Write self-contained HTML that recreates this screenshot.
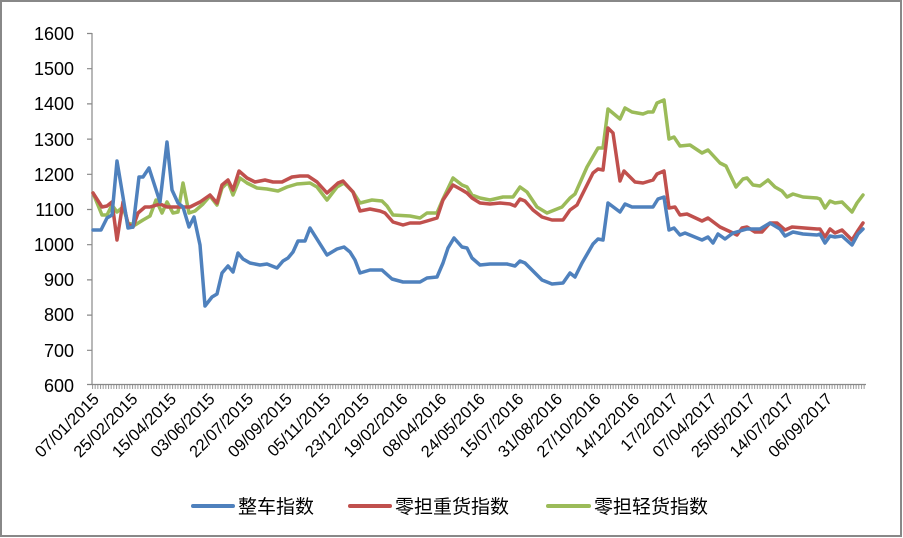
<!DOCTYPE html>
<html><head><meta charset="utf-8"><style>
html,body{margin:0;padding:0;background:#fff;}
svg{display:block;font-family:"Liberation Sans","Noto Sans CJK SC",sans-serif;}
</style></head><body>
<svg width="903" height="538" viewBox="0 0 903 538" xmlns="http://www.w3.org/2000/svg">
<defs>
<pattern id="tk" x="92" y="385" width="2.67" height="5" patternUnits="userSpaceOnUse">
<rect x="0" y="0" width="1" height="5" fill="#999"/>
</pattern>
</defs>
<rect x="1" y="1" width="900" height="535" fill="#fff" stroke="#888" stroke-width="2"/>
<rect x="92" y="385" width="774" height="4" fill="url(#tk)"/>
<g stroke="#888" stroke-width="1.2" fill="none">
<line x1="92" y1="33" x2="92" y2="385"/>
<line x1="87" y1="384.5" x2="866" y2="384.5"/>
<path d="M87 33.5h5M87 68.7h5M87 103.9h5M87 139.1h5M87 174.3h5M87 209.5h5M87 244.7h5M87 279.9h5M87 315.1h5M87 350.3h5"/>
</g>
<g font-size="18" fill="#000" text-anchor="end">
<text x="74" y="40">1600</text><text x="74" y="75">1500</text><text x="74" y="110">1400</text><text x="74" y="146">1300</text><text x="74" y="181">1200</text><text x="74" y="216">1100</text><text x="74" y="251">1000</text><text x="74" y="286">900</text><text x="74" y="321">800</text><text x="74" y="357">700</text><text x="74" y="392">600</text>
</g>
<g font-size="16.5" fill="#000" text-anchor="end">
<text transform="translate(100,400) rotate(-45)">07/01/2015</text>
<text transform="translate(138.6,400) rotate(-45)">25/02/2015</text>
<text transform="translate(177.2,400) rotate(-45)">15/04/2015</text>
<text transform="translate(215.8,400) rotate(-45)">03/06/2015</text>
<text transform="translate(254.4,400) rotate(-45)">22/07/2015</text>
<text transform="translate(293,400) rotate(-45)">09/09/2015</text>
<text transform="translate(331.6,400) rotate(-45)">05/11/2015</text>
<text transform="translate(370.2,400) rotate(-45)">23/12/2015</text>
<text transform="translate(408.8,400) rotate(-45)">19/02/2016</text>
<text transform="translate(447.4,400) rotate(-45)">08/04/2016</text>
<text transform="translate(486,400) rotate(-45)">24/05/2016</text>
<text transform="translate(524.6,400) rotate(-45)">15/07/2016</text>
<text transform="translate(563.2,400) rotate(-45)">31/08/2016</text>
<text transform="translate(601.8,400) rotate(-45)">27/10/2016</text>
<text transform="translate(640.4,400) rotate(-45)">14/12/2016</text>
<text transform="translate(679,400) rotate(-45)">17/2/2017</text>
<text transform="translate(717.6,400) rotate(-45)">07/04/2017</text>
<text transform="translate(756.2,400) rotate(-45)">25/05/2017</text>
<text transform="translate(794.8,400) rotate(-45)">14/07/2017</text>
<text transform="translate(833.4,400) rotate(-45)">06/09/2017</text>
</g>
<g fill="none" stroke-width="3.5" stroke-linejoin="round" stroke-linecap="round">
<polyline stroke="#9BBB59" points="93,193 102,215 107,215 112,205 117,212 123,207 128,223 135,225 143,220 150,216 156,200 162,213 167,202 173,213 178,212 183,183 189,213 195,211 203,204 210,196 217,205 222,188 228,182 233,195 240,178 247,183 257,188 267,189 278,191 287,187 297,184 310,183 317,187 327,200 337,187 344,183 353,192 360,203 372,200 382,201 387,206 393,215 410,216 420,218 427,213 437,213 443,199 453,178 462,185 467,187 472,195 480,198 490,200 503,197 513,197 520,187 527,192 537,207 547,213 562,207 570,198 575,194 587,167 598,148 603,148 608,109 620,119 625,108 632,112 643,114 648,112 653,112 657,103 664,100 669,139 674,137 680,146 690,145 702,153 708,150 720,163 726,166 736,187 743,179 747,178 753,185 760,186 768,180 775,187 782,191 787,197 793,194 803,197 817,198 820,199 825,208 830,201 835,203 842,202 852,212 857,203 863,195"/>
<polyline stroke="#C0504D" points="93,193 102,207 107,206 112,202 117,240 123,202 128,224 133,227 138,213 145,207 150,207 160,204 167,207 177,207 190,207 200,202 210,195 217,203 222,185 228,180 233,190 239,171 247,178 255,182 265,180 273,182 282,182 292,177 300,176 308,176 317,182 327,193 338,183 343,181 353,192 360,211 370,209 380,211 385,213 393,222 403,225 410,223 420,223 427,221 437,218 443,200 453,185 462,190 467,193 472,198 480,203 490,204 500,203 510,204 515,206 520,199 525,201 533,210 542,217 552,220 563,220 570,210 577,205 593,173 598,169 603,170 608,128 613,133 620,181 624,171 635,182 643,183 653,180 657,174 664,171 669,208 675,207 680,215 687,214 702,221 708,218 720,227 733,233 737,235 742,228 747,227 755,232 762,232 770,223 777,223 785,230 792,227 817,229 820,229 825,237 830,229 835,233 842,230 852,240 857,232 863,223"/>
<polyline stroke="#4F81BD" points="93,230 101,230 107,218 112,215 117,161 123,197 128,228 133,227 139,177 143,177 149,168 160,202 167,142 172,190 178,203 183,207 189,227 194,217 200,245 205,306 212,297 217,294 222,273 228,266 233,272 238,253 243,259 250,263 260,265 267,264 277,268 283,261 288,258 293,252 298,241 305,241 310,228 327,255 337,249 344,247 350,252 355,260 360,273 370,270 382,270 392,279 403,282 410,282 420,282 427,278 437,277 443,263 448,248 454,238 462,247 467,248 472,258 480,265 490,264 507,264 515,266 520,261 525,263 542,280 552,284 563,283 570,273 575,277 582,263 593,244 598,239 603,240 608,203 620,212 625,204 632,207 643,207 650,207 653,207 658,199 664,197 669,230 674,228 680,235 685,233 702,240 708,237 713,243 718,234 725,239 733,233 747,229 760,229 770,223 780,229 785,236 793,232 803,234 817,235 820,234 825,243 830,236 835,237 842,236 852,245 858,234 863,229"/>
</g>
<g stroke-width="4" stroke-linecap="round">
<line x1="193" y1="506" x2="233" y2="506" stroke="#4F81BD"/>
<line x1="350" y1="506" x2="390" y2="506" stroke="#C0504D"/>
<line x1="548" y1="506" x2="589" y2="506" stroke="#9BBB59"/>
</g>
<g font-size="19" fill="#000">
<text x="238" y="513">整车指数</text>
<text x="395" y="513">零担重货指数</text>
<text x="594" y="513">零担轻货指数</text>
</g>
</svg>
</body></html>
